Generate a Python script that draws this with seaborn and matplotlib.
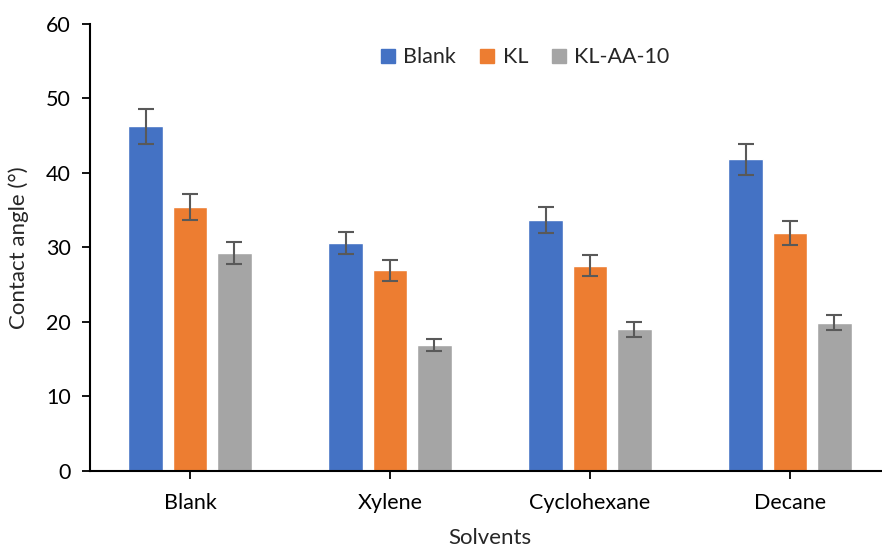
import matplotlib
matplotlib.use("Agg")
import matplotlib.pyplot as plt
from matplotlib.lines import Line2D
import seaborn as sns
import pandas as pd
import numpy as np

solvents = ["Blank", "Xylene", "Cyclohexane", "Decane"]
series = ["Blank", "KL", "KL-AA-10"]
blank_vals = [46.2, 30.6, 33.7, 41.8]
kl_vals = [35.4, 26.9, 27.5, 31.9]
klaa_vals = [29.2, 16.9, 19.0, 19.9]
blank_err = [2.3, 1.5, 1.75, 2.1]
kl_err = [1.75, 1.4, 1.4, 1.6]
klaa_err = [1.45, 0.85, 1.0, 1.0]
colors = ["#4472C4", "#ED7D31", "#A5A5A5"]

rows = []
for s, vals, errs in zip(series, [blank_vals, kl_vals, klaa_vals],
                         [blank_err, kl_err, klaa_err]):
    for c, v, e in zip(solvents, vals, errs):
        rows.append({"Solvent": c, "Series": s, "Angle": v, "Err": e})
df = pd.DataFrame(rows)

sns.set_style("white")
plt.rcParams["font.family"] = ["Lato", "DejaVu Sans"]

fig = plt.figure(figsize=(8.82, 5.50), dpi=100)
ax = fig.add_axes([90 / 882, 79 / 550, 800 / 882, 447.5 / 550])

sns.barplot(data=df, x="Solvent", y="Angle", hue="Series", order=solvents,
            hue_order=series, palette=colors, errorbar=None, width=0.665,
            gap=0.22, saturation=1, ax=ax, legend=False)

# error bars at each bar centre, in the same order as the data rows
for s_idx, s in enumerate(series):
    cont = ax.containers[s_idx]
    sub = df[df["Series"] == s].set_index("Solvent").loc[solvents]
    xs = [p.get_x() + p.get_width() / 2 for p in cont.patches]
    ax.errorbar(xs, sub["Angle"].values, yerr=sub["Err"].values, fmt="none",
                ecolor="#595959", elinewidth=1.5, capsize=6, capthick=1.5,
                zorder=5)

ax.set_ylim(0, 60)
ax.set_yticks(np.arange(0, 61, 10))
ax.set_xlim(-0.5, 3.5)
for side in ["top", "right"]:
    ax.spines[side].set_visible(False)
ax.spines["left"].set_color("black")
ax.spines["bottom"].set_color("black")
ax.spines["left"].set_linewidth(1.5)
ax.spines["bottom"].set_linewidth(1.5)
ax.tick_params(axis="both", which="both", direction="out", length=6,
               width=1.3, color="black", labelsize=15.5, labelcolor="black",
               left=True, bottom=True)
ax.tick_params(axis="x", pad=10)
ax.tick_params(axis="y", pad=8)
ax.set_xlabel("Solvents", fontsize=16, labelpad=11)
ax.set_ylabel("Contact angle (°)", fontsize=16, labelpad=12)

handles = [Line2D([0], [0], marker="s", linestyle="none", markersize=10,
                  markerfacecolor=c, markeredgecolor=c) for c in colors]
ax.legend(handles, series, loc="center", bbox_to_anchor=(0.544, 0.925),
          ncol=3, frameon=False, fontsize=15.5, handlelength=0.7,
          handletextpad=0.35, columnspacing=1.1)

fig.savefig("out.png", dpi=100)
